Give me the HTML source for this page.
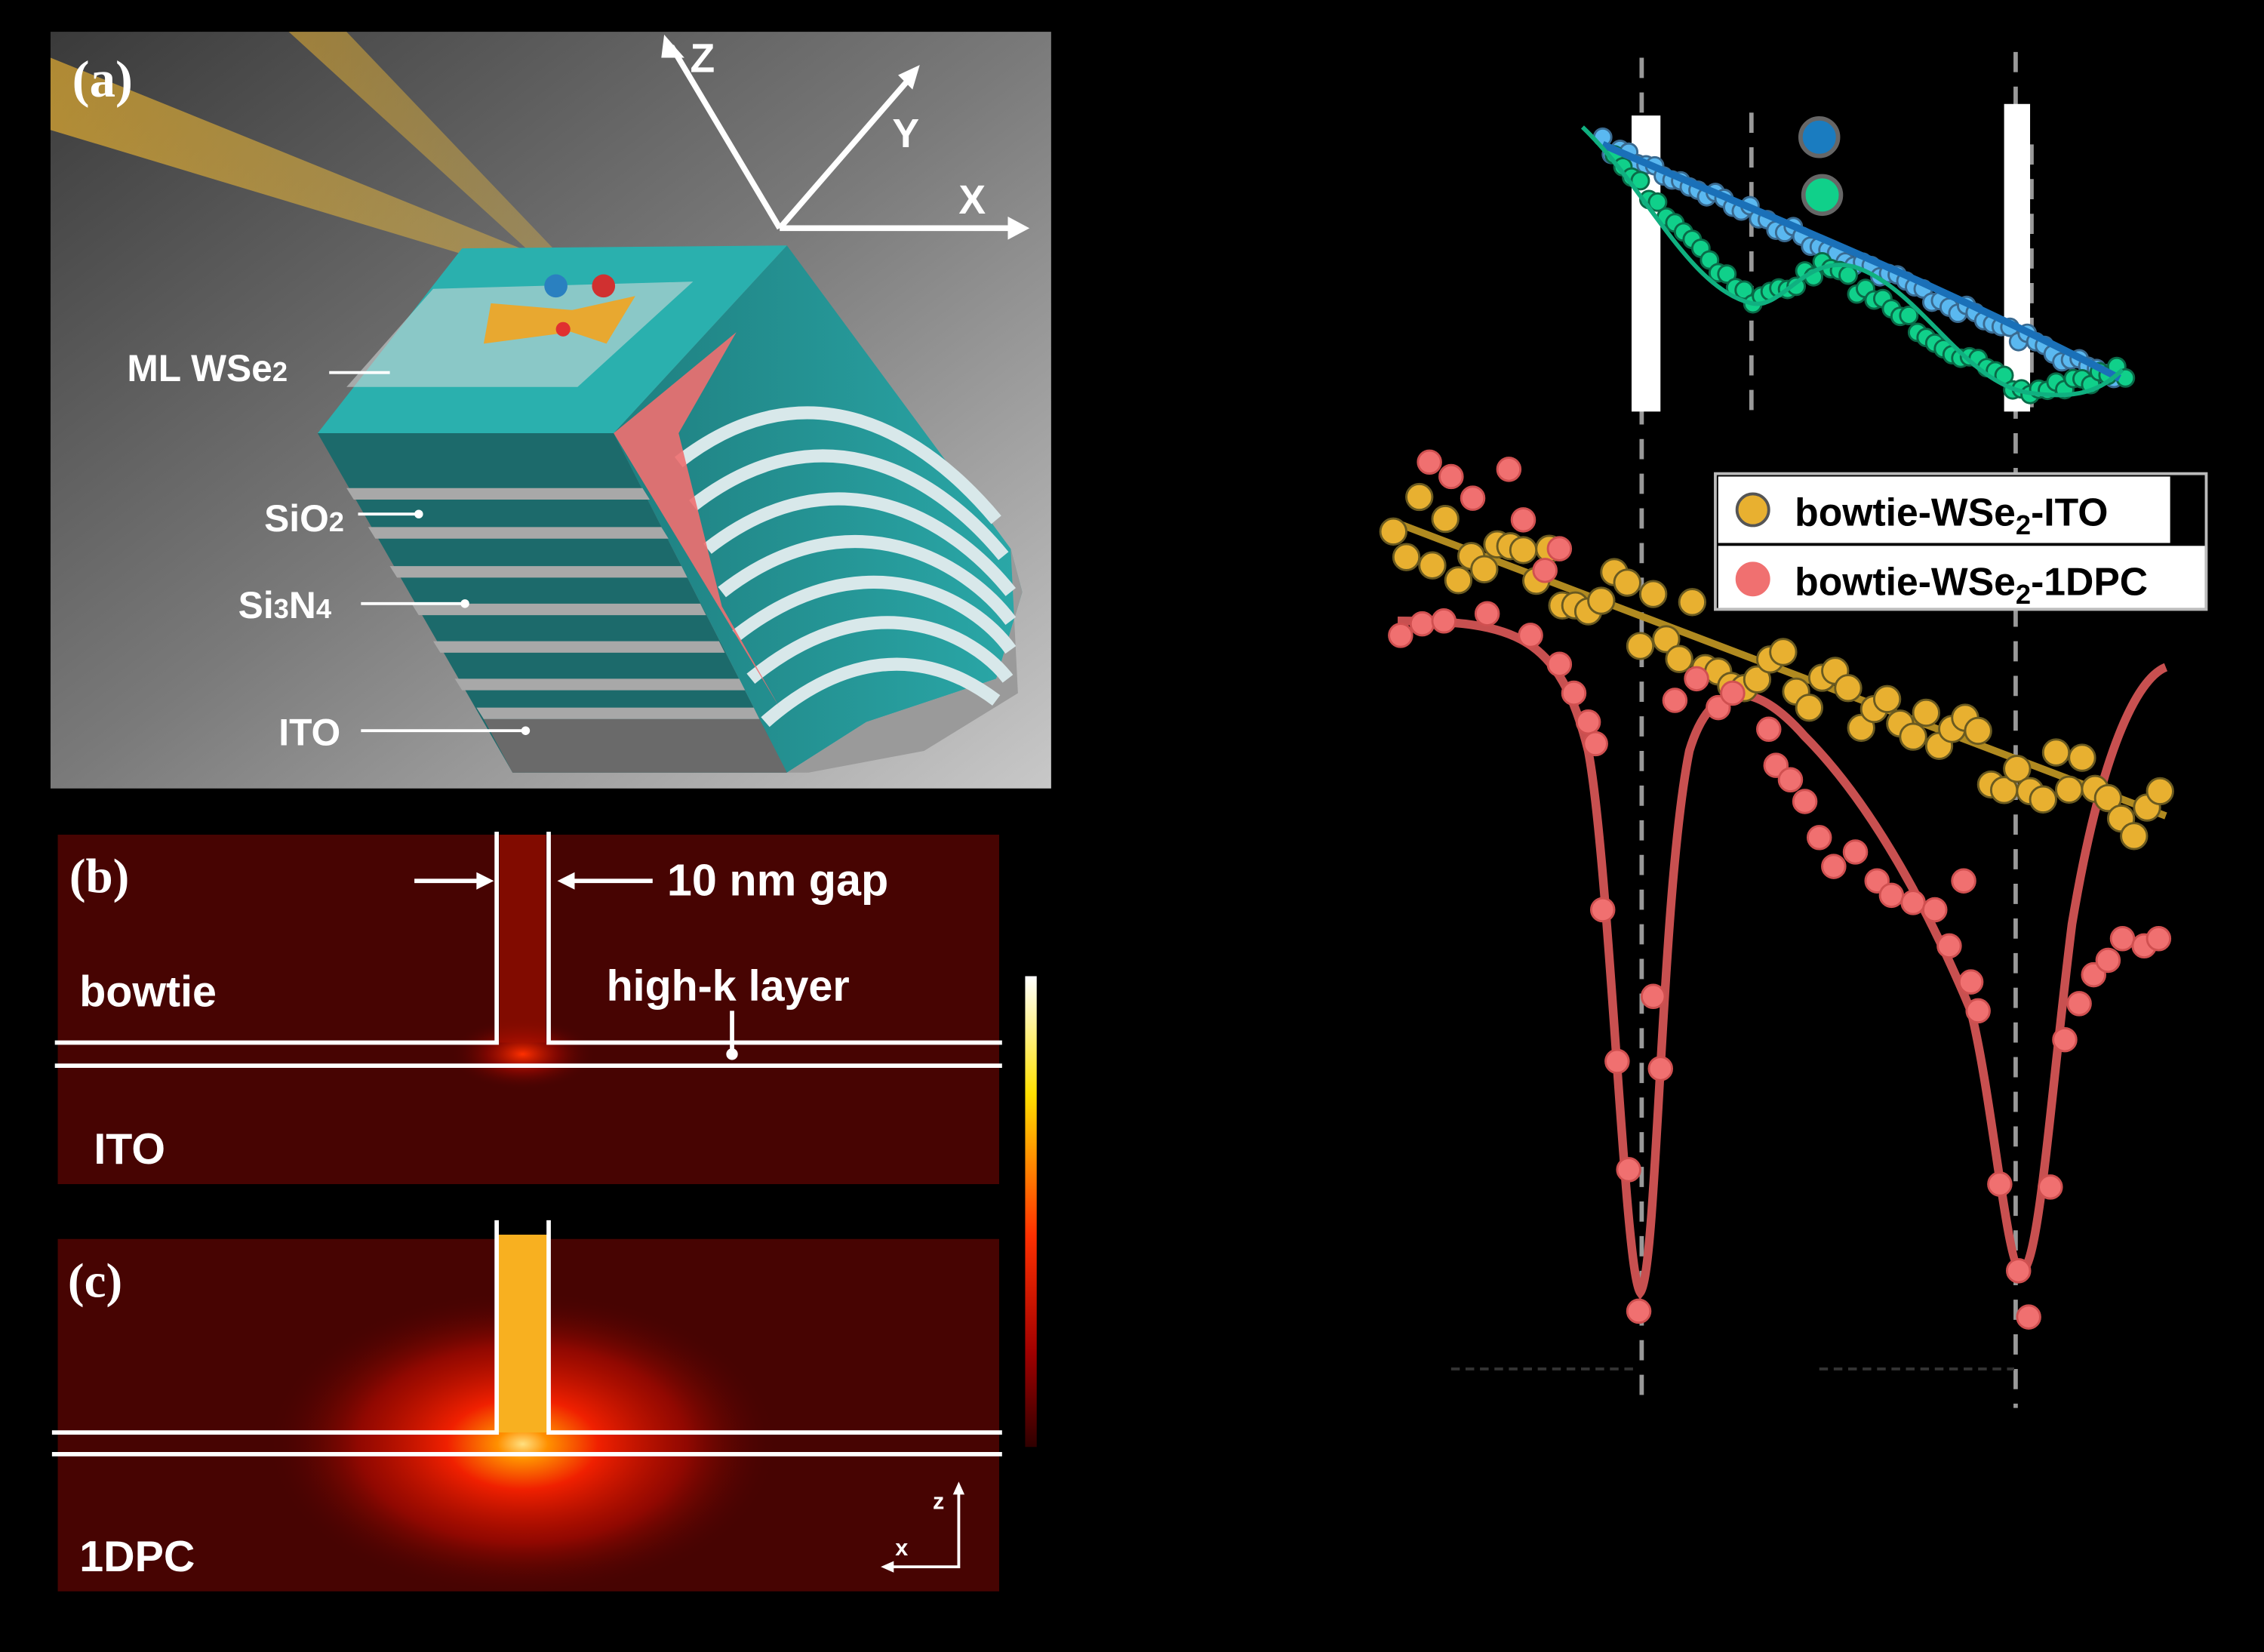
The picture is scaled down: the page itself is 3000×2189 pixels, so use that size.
<!DOCTYPE html>
<html><head><meta charset="utf-8"><style>
html,body{margin:0;padding:0;background:#000;}
svg{display:block;}
text{font-family:"Liberation Sans","DejaVu Sans",sans-serif;font-weight:bold;fill:#fff;}
.ser{font-family:"Liberation Serif",serif;}
</style></head><body>
<svg id="s" width="3000" height="2189" viewBox="0 0 1568 1144" preserveAspectRatio="none" xmlns="http://www.w3.org/2000/svg">
<defs>
<linearGradient id="bg" x1="0" y1="0" x2="1" y2="1">
<stop offset="0" stop-color="#3a3a3a"/><stop offset="0.5" stop-color="#7a7a7a"/><stop offset="1" stop-color="#c8c8c8"/></linearGradient>
<linearGradient id="beam" x1="0" y1="0" x2="1" y2="0">
<stop offset="0" stop-color="#e8b030" stop-opacity="0.9"/><stop offset="1" stop-color="#f0c040" stop-opacity="0.5"/></linearGradient>
<linearGradient id="side" x1="0" y1="0" x2="1" y2="0">
<stop offset="0" stop-color="#1f7f80"/><stop offset="1" stop-color="#2aa8a8"/></linearGradient>
<radialGradient id="hotb" cx="0.5" cy="0.5" r="0.5">
<stop offset="0" stop-color="#ff3000"/><stop offset="0.5" stop-color="#a00800" stop-opacity="0.6"/><stop offset="1" stop-color="#4a0300" stop-opacity="0"/></radialGradient>
<radialGradient id="hotc" cx="0.5" cy="0.5" r="0.5">
<stop offset="0" stop-color="#ffe080"/><stop offset="0.1" stop-color="#ff9000"/><stop offset="0.3" stop-color="#f02000"/><stop offset="0.65" stop-color="#b00a00" stop-opacity="0.7"/><stop offset="1" stop-color="#500300" stop-opacity="0"/></radialGradient>
<linearGradient id="cbar" x1="0" y1="0" x2="0" y2="1">
<stop offset="0" stop-color="#ffffff"/><stop offset="0.25" stop-color="#ffe000"/><stop offset="0.55" stop-color="#ff3000"/><stop offset="0.8" stop-color="#a00000"/><stop offset="1" stop-color="#300000"/></linearGradient>
</defs>
<rect width="1568" height="1144" fill="#000"/>
<!-- panel a -->
<rect x="35" y="22" width="693" height="524" fill="url(#bg)"/>
<polygon points="35,40 35,90 400,200 405,190" fill="url(#beam)" opacity="0.75"/>
<polygon points="200,22 240,22 405,195 395,200" fill="url(#beam)" opacity="0.6"/>
<polygon points="425,300 545,170 700,380 708,410 690,470 600,500 545,535" fill="url(#side)"/>
<polygon points="600,500 690,470 708,410 700,380 705,480 640,520 560,535 545,535" fill="#9a9a9a"/>
<g stroke="#d8e8ea" stroke-width="9" fill="none">
<path d="M470,320 C560,250 640,300 690,360"/>
<path d="M480,350 C570,280 650,330 695,385"/>
<path d="M490,380 C580,310 660,360 700,410"/>
<path d="M500,410 C590,340 670,390 700,430"/>
<path d="M510,440 C600,370 675,415 700,450"/>
<path d="M520,470 C605,400 675,440 698,470"/>
<path d="M530,500 C610,430 670,470 690,485"/>
</g>
<polygon points="425,300 510,230 470,300 500,420 540,490" fill="#f06f70" opacity="0.9"/>
<polygon points="220,300 425,300 545,535 355,535" fill="#1c6a6b"/>
<g fill="#a8a8a8">
<polygon points="240,338 445,338 450,346 245,346"/>
<polygon points="255,365 458,365 463,373 260,373"/>
<polygon points="270,392 472,392 476,400 275,400"/>
<polygon points="285,418 485,418 489,426 290,426"/>
<polygon points="300,444 498,444 502,452 305,452"/>
<polygon points="315,470 512,470 516,478 320,478"/>
<polygon points="330,490 522,490 526,498 335,498"/>
</g>
<polygon points="335,498 526,498 545,535 355,535" fill="#6a6a6a"/>
<polygon points="320,172 545,170 425,300 220,300" fill="#2ab0ae"/>
<polygon points="300,200 480,195 400,268 240,268" fill="#d8dcdc" opacity="0.55"/>
<polygon points="340,210 400,215 395,230 335,238" fill="#e8a830"/>
<polygon points="395,215 440,205 420,238 390,228" fill="#e8a830"/>
<circle cx="385" cy="198" r="8" fill="#2a80c0"/><circle cx="418" cy="198" r="8" fill="#d03030"/><circle cx="390" cy="228" r="5" fill="#e03030"/>
<g stroke="#fff" stroke-width="4" fill="none">
<line x1="540" y1="158" x2="465" y2="32"/><line x1="540" y1="158" x2="632" y2="52"/><line x1="540" y1="158" x2="706" y2="158"/>
</g>
<polygon points="460,24 474,40 458,40" fill="#fff"/><polygon points="637,45 632,62 622,52" fill="#fff"/><polygon points="713,158 698,150 698,166" fill="#fff"/>
<text x="478" y="50" font-size="28">Z</text><text x="618" y="102" font-size="28">Y</text><text x="664" y="148" font-size="28">X</text>
<text x="50" y="67" font-size="36" class="ser">(a)</text>
<text x="88" y="264" font-size="26">ML WSe<tspan font-size="19">2</tspan></text>
<line x1="228" y1="258" x2="270" y2="258" stroke="#fff" stroke-width="2"/>
<text x="183" y="368" font-size="26">SiO<tspan font-size="19">2</tspan></text>
<line x1="248" y1="356" x2="290" y2="356" stroke="#fff" stroke-width="2"/><circle cx="290" cy="356" r="3" fill="#fff"/>
<text x="165" y="428" font-size="26">Si<tspan font-size="19">3</tspan>N<tspan font-size="19">4</tspan></text>
<line x1="250" y1="418" x2="322" y2="418" stroke="#fff" stroke-width="2"/><circle cx="322" cy="418" r="3" fill="#fff"/>
<text x="193" y="516" font-size="26">ITO</text>
<line x1="250" y1="506" x2="364" y2="506" stroke="#fff" stroke-width="2"/><circle cx="364" cy="506" r="3" fill="#fff"/>
<!-- panel b -->
<rect x="40" y="578" width="652" height="242" fill="#470402"/>
<ellipse cx="362" cy="730" rx="50" ry="25" fill="url(#hotb)"/>
<rect x="346" y="578" width="32" height="144" fill="#a81000" opacity="0.6"/>
<g stroke="#fff" stroke-width="3" fill="none">
<polyline points="38,722 344,722 344,576"/><polyline points="694,722 380,722 380,576"/><line x1="38" y1="738" x2="694" y2="738"/>
<line x1="287" y1="610" x2="338" y2="610"/><line x1="452" y1="610" x2="390" y2="610"/><line x1="507" y1="700" x2="507" y2="728"/>
</g>
<polygon points="342,610 330,604 330,616" fill="#fff"/><polygon points="386,610 398,604 398,616" fill="#fff"/><circle cx="507" cy="730" r="4" fill="#fff"/>
<text x="48" y="618" font-size="34" class="ser">(b)</text>
<text x="462" y="620" font-size="31">10 nm gap</text>
<text x="55" y="697" font-size="30">bowtie</text>
<text x="420" y="693" font-size="30">high-k layer</text>
<text x="65" y="806" font-size="30">ITO</text>
<rect x="710" y="676" width="8" height="326" fill="url(#cbar)"/>
<!-- panel c -->
<rect x="40" y="858" width="652" height="244" fill="#470402"/>
<ellipse cx="362" cy="1000" rx="175" ry="105" fill="url(#hotc)"/>
<rect x="345" y="855" width="35" height="137" fill="#f8b020"/>
<g stroke="#fff" stroke-width="3" fill="none">
<polyline points="36,992 344,992 344,845"/><polyline points="694,992 380,992 380,845"/><line x1="36" y1="1007" x2="694" y2="1007"/>
<polyline points="664,1030 664,1085 615,1085" stroke-width="2"/>
</g>
<polygon points="664,1026 660,1035 668,1035" fill="#fff"/><polygon points="610,1085 619,1081 619,1089" fill="#fff"/>
<text x="646" y="1045" font-size="16" font-weight="normal">z</text><text x="620" y="1077" font-size="16" font-weight="normal">x</text>
<text x="47" y="898" font-size="34" class="ser">(c)</text>
<text x="55" y="1088" font-size="30">1DPC</text>
<!-- right plot -->
<g stroke="#999" stroke-width="3" stroke-dasharray="14,10" fill="none">
<line x1="1137" y1="40" x2="1137" y2="975"/><line x1="1396" y1="36" x2="1396" y2="975"/><line x1="1213" y1="78" x2="1213" y2="288"/>
<line x1="1407" y1="100" x2="1407" y2="290"/>
</g>
<g stroke="#333" stroke-width="2" stroke-dasharray="6,4"><line x1="1005" y1="948" x2="1135" y2="948"/><line x1="1260" y1="948" x2="1395" y2="948"/></g>
<rect x="1130" y="80" width="20" height="205" fill="#fff"/>
<rect x="1388" y="72" width="18" height="213" fill="#fff"/>
<circle cx="1260" cy="95" r="13" fill="#1a7cc0" stroke="#666" stroke-width="3"/>
<circle cx="1262" cy="135" r="13" fill="#10d08a" stroke="#666" stroke-width="3"/>
<g id="pts"></g>
<path d="M1110,100 C1200,140 1330,190 1468,262" stroke="#1a70b8" stroke-width="5" fill="none"/>
<path d="M1096,88 C1140,130 1170,200 1213,210 C1235,215 1250,175 1285,185 C1330,200 1360,265 1405,272 C1440,277 1455,270 1470,256" stroke="#10b080" stroke-width="3" fill="none"/>
<line x1="967" y1="362" x2="1500" y2="565" stroke="#b08a20" stroke-width="5"/>
<path d="M968,430 C1050,430 1080,440 1100,520 C1115,600 1125,880 1136,895 C1148,880 1150,620 1170,520 C1185,470 1215,470 1250,510 C1300,560 1340,640 1365,700 C1380,760 1390,880 1400,880 C1412,880 1420,760 1435,640 C1455,520 1480,470 1500,462" stroke="#c85050" stroke-width="6" fill="none"/>
<g id="pts2"></g>
<rect x="1188" y="328" width="340" height="94" fill="#000" stroke="#bbb" stroke-width="2"/>
<rect x="1505" y="332" width="22" height="42" fill="#000"/>
<rect x="1190" y="378" width="337" height="43" fill="#fff"/>
<rect x="1190" y="330" width="313" height="46" fill="#fff"/>
<circle cx="1214" cy="353" r="11" fill="#e8b030" stroke="#555" stroke-width="2"/>
<circle cx="1214" cy="401" r="11" fill="#f07070" stroke="#f07070" stroke-width="2"/>
<text x="1243" y="364" font-size="27" font-weight="normal" style="fill:#000">bowtie-WSe<tspan font-size="19" dy="6">2</tspan><tspan dy="-6">-ITO</tspan></text>
<text x="1243" y="412" font-size="27" font-weight="normal" style="fill:#000">bowtie-WSe<tspan font-size="19" dy="6">2</tspan><tspan dy="-6">-1DPC</tspan></text>
</svg>
<script>
var ns="http://www.w3.org/2000/svg",g=document.getElementById("pts"),g2=document.getElementById("pts2");
var seed=7;function r(){seed=(seed*16807)%2147483647;return seed/2147483647-0.5;}
function c(p,x,y,rad,f,s){var e=document.createElementNS(ns,"circle");e.setAttribute("cx",x);e.setAttribute("cy",y);e.setAttribute("r",rad);e.setAttribute("fill",f);e.setAttribute("stroke",s);e.setAttribute("stroke-width",1.5);p.appendChild(e);}
for(var i=0;i<60;i++){var x=1110+i*6;var y=100+(x-1110)*0.46+r()*10;c(g,x,y,6,"#5ab8f0","#3a6a90");}
function gy(x){if(x<1213)return 90+(x-1100)*1.05;if(x<1265)return 210-(x-1213)*0.5;if(x<1400)return 185+(x-1265)*0.65;return 272-(x-1400)*0.2;}
for(var i=0;i<60;i++){var x=1118+i*6;c(g,x,gy(x)+r()*10,6,"#10d08a","#0a6a48");}
for(var i=0;i<60;i++){var x=965+i*9;var y=362+(x-967)*0.381+r()*50;c(g2,x,y,9,"#e8b030","#6a5a20");}
var red=[[990,320],[1005,330],[1020,345],[1045,325],[1055,360],[970,440],[985,432],[1000,430],[1030,425],[1060,440],[1080,460],[1090,480],[1100,500],[1105,515],[1110,630],[1120,735],[1128,810],[1135,908],[1150,740],[1145,690],[1160,485],[1175,470],[1190,490],[1200,480],[1225,505],[1230,530],[1240,540],[1250,555],[1260,580],[1270,600],[1285,590],[1300,610],[1310,620],[1325,625],[1340,630],[1350,655],[1360,610],[1365,680],[1370,700],[1385,820],[1398,880],[1405,912],[1420,822],[1430,720],[1440,695],[1450,675],[1460,665],[1470,650],[1485,655],[1495,650],[1080,380],[1070,395]];
red.forEach(function(p){c(g2,p[0],p[1],8,"#f07070","#d05050");});
</script>
</body></html>
